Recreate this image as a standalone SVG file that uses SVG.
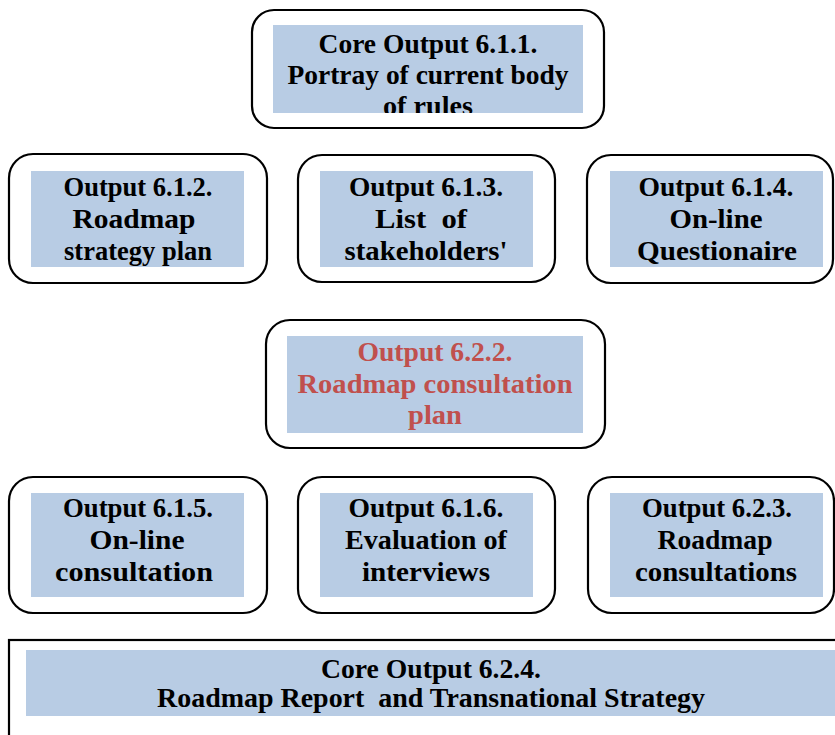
<svg xmlns="http://www.w3.org/2000/svg" width="835" height="735" viewBox="0 0 835 735" xml:space="preserve">
<style>
.outer{fill:#ffffff;stroke:#000000;stroke-width:2.2}
.inner{fill:#B8CCE4;stroke:none}
.t{font-family:"Liberation Serif","Times New Roman",serif;font-weight:bold;font-size:27px;fill:#000000;text-anchor:middle;white-space:pre}
.red{fill:#C0504D}
</style>
<defs>
<clipPath id="clipTop"><rect x="273" y="25" width="310" height="88"/></clipPath>
</defs>
<rect width="835" height="735" fill="#ffffff"/>
<g id="connectors"></g>
<g id="n611">
<rect class="outer" x="252" y="10" width="352" height="118" rx="22"/>
<rect class="inner" x="273" y="25" width="310" height="88"/>
<g clip-path="url(#clipTop)">
<text class="t" x="428" y="53" textLength="219" lengthAdjust="spacingAndGlyphs">Core Output 6.1.1.</text>
<text class="t" x="428" y="84" textLength="281" lengthAdjust="spacingAndGlyphs">Portray of current body</text>
<text class="t" x="428" y="115" textLength="90" lengthAdjust="spacingAndGlyphs">of rules</text>
</g>
</g>
<g id="n612">
<rect class="outer" x="9" y="154" width="258" height="129" rx="24"/>
<rect class="inner" x="31" y="171" width="213" height="96"/>
<text class="t" x="138" y="196" textLength="149" lengthAdjust="spacingAndGlyphs">Output 6.1.2.</text>
<text class="t" x="134" y="228" textLength="123" lengthAdjust="spacingAndGlyphs">Roadmap</text>
<text class="t" x="138" y="260" textLength="148" lengthAdjust="spacingAndGlyphs">strategy plan</text>
</g>
<g id="n613">
<rect class="outer" x="298" y="155" width="257" height="127" rx="24"/>
<rect class="inner" x="320" y="171" width="213" height="96"/>
<text class="t" x="426" y="196" textLength="154" lengthAdjust="spacingAndGlyphs">Output 6.1.3.</text>
<text class="t" x="421" y="228" textLength="92" lengthAdjust="spacingAndGlyphs">List  of</text>
<text class="t" x="426" y="260" textLength="163" lengthAdjust="spacingAndGlyphs">stakeholders'</text>
</g>
<g id="n614">
<rect class="outer" x="587" y="155" width="246" height="128" rx="24"/>
<rect class="inner" x="610" y="171" width="213" height="96"/>
<text class="t" x="716" y="196" textLength="155" lengthAdjust="spacingAndGlyphs">Output 6.1.4.</text>
<text class="t" x="716" y="228" textLength="93" lengthAdjust="spacingAndGlyphs">On-line</text>
<text class="t" x="717" y="260" textLength="160" lengthAdjust="spacingAndGlyphs">Questionaire</text>
</g>
<g id="n622">
<rect class="outer" x="266" y="320" width="339" height="128" rx="24"/>
<rect class="inner" x="287" y="336" width="296" height="97"/>
<text class="t red" x="435" y="361" textLength="155" lengthAdjust="spacingAndGlyphs">Output 6.2.2.</text>
<text class="t red" x="435" y="393" textLength="275" lengthAdjust="spacingAndGlyphs">Roadmap consultation</text>
<text class="t red" x="435" y="424" textLength="54" lengthAdjust="spacingAndGlyphs">plan</text>
</g>
<g id="n615">
<rect class="outer" x="9" y="477" width="258" height="136" rx="24"/>
<rect class="inner" x="31" y="493" width="213" height="104"/>
<text class="t" x="138" y="517" textLength="150" lengthAdjust="spacingAndGlyphs">Output 6.1.5.</text>
<text class="t" x="137" y="549" textLength="95" lengthAdjust="spacingAndGlyphs">On-line</text>
<text class="t" x="134" y="581" textLength="158" lengthAdjust="spacingAndGlyphs">consultation</text>
</g>
<g id="n616">
<rect class="outer" x="298" y="477" width="257" height="136" rx="24"/>
<rect class="inner" x="320" y="493" width="213" height="104"/>
<text class="t" x="426" y="517" textLength="155" lengthAdjust="spacingAndGlyphs">Output 6.1.6.</text>
<text class="t" x="426" y="549" textLength="162" lengthAdjust="spacingAndGlyphs">Evaluation of</text>
<text class="t" x="426" y="581" textLength="128" lengthAdjust="spacingAndGlyphs">interviews</text>
</g>
<g id="n623">
<rect class="outer" x="588" y="477" width="246" height="136" rx="24"/>
<rect class="inner" x="610" y="493" width="213" height="104"/>
<text class="t" x="717" y="517" textLength="150" lengthAdjust="spacingAndGlyphs">Output 6.2.3.</text>
<text class="t" x="715" y="549" textLength="115" lengthAdjust="spacingAndGlyphs">Roadmap</text>
<text class="t" x="716" y="581" textLength="162" lengthAdjust="spacingAndGlyphs">consultations</text>
</g>
<g id="n624">
<rect class="outer" x="9" y="640" width="840" height="110"/>
<rect class="inner" x="26" y="650" width="815" height="66"/>
<text class="t" x="431" y="678" textLength="220" lengthAdjust="spacingAndGlyphs">Core Output 6.2.4.</text>
<text class="t" x="431" y="707" textLength="548" lengthAdjust="spacingAndGlyphs">Roadmap Report  and Transnational Strategy</text>
</g>
</svg>
